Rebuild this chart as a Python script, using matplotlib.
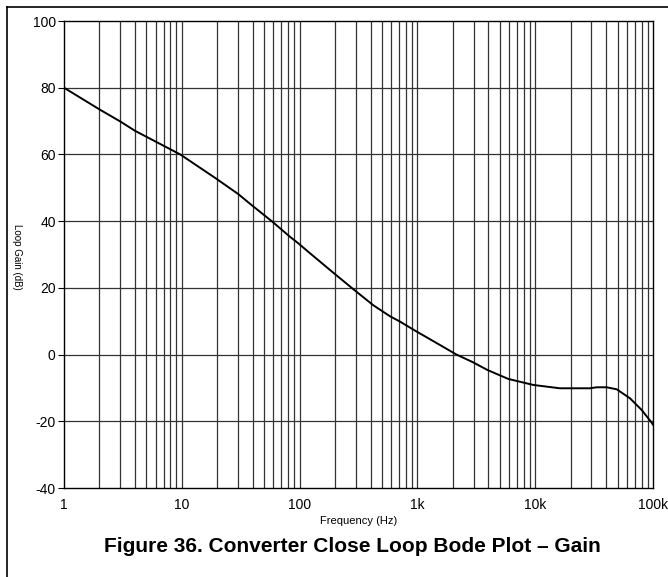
import numpy as np
import matplotlib.pyplot as plt
from matplotlib.lines import Line2D

plt.rcParams['font.family'] = ['Liberation Sans', 'DejaVu Sans']
plt.rcParams['axes.unicode_minus'] = False

# Gain curve
freq = [1, 2, 3, 4, 9.7, 19.5, 30.2, 39.2, 58, 83, 98, 118.6, 197, 286, 422,
        585, 711, 986, 1238, 2150, 2966, 3925, 5915, 9640, 16200, 29200,
        33300, 40400, 49200, 63800, 80200, 97500, 100000]
gain = [80, 73.5, 69.9, 67.1, 60, 52.8, 48.1, 44.8, 40, 35.3, 33.3, 30.8,
        24.3, 19.6, 14.8, 11.5, 9.9, 6.9, 4.9, 0, -2.3, -4.6, -7.3, -9.1,
        -10.1, -10.1, -9.8, -9.8, -10.4, -13.1, -16.6, -20.4, -21]

xticks = [1, 10, 100, 1000, 10000, 100000]
xlabels = ['1', '10', '100', '1k', '10k', '100k']
yticks = [-40, -20, 0, 20, 40, 60, 80, 100]

fig = plt.figure(figsize=(6.68, 5.77), dpi=100)
ax = fig.add_axes([0.0958, 0.1542, 0.8817, 0.8094])

# grid: every minor decade line + every 20 dB
for dec in range(5):
    for k in range(2, 10):
        ax.axvline(k * 10 ** dec, color='#333333', lw=0.9, zorder=1)
for d in range(1, 5):
    ax.axvline(10 ** d, color='#333333', lw=0.9, zorder=1)
for y in yticks[1:-1]:
    ax.axhline(y, color='#333333', lw=0.9, zorder=1)

ax.plot(freq, gain, color='black', lw=1.4, zorder=3)

ax.set_xscale('log')
ax.set_xlim(1, 100000)
ax.set_ylim(-40, 100)
ax.set_xticks(xticks)
ax.set_xticklabels(xlabels)
ax.minorticks_off()
ax.set_yticks(yticks)
ax.tick_params(axis='x', length=0, pad=7, labelsize=10)
ax.tick_params(axis='y', length=4, width=0.8, pad=2, labelsize=10)
for s in ax.spines.values():
    s.set_linewidth(1.0)

ax.set_xlabel('Frequency (Hz)', fontsize=8, labelpad=3)
fig.text(0.025, 0.555, 'Loop Gain (dB)', rotation=-90, fontsize=7,
         ha='center', va='center')

fig.text(0.527, 0.052, 'Figure 36. Converter Close Loop Bode Plot \u2013 Gain',
         fontsize=15, fontweight='bold', ha='center', va='center')

# outer frame (top and left edges)
fig.add_artist(Line2D([0.0105, 1.0], [0.988, 0.988], color='black', lw=1.2,
                      transform=fig.transFigure))
fig.add_artist(Line2D([0.0105, 0.0105], [0.0, 0.988], color='black', lw=1.2,
                      transform=fig.transFigure))

fig.savefig('out.png', dpi=100)
